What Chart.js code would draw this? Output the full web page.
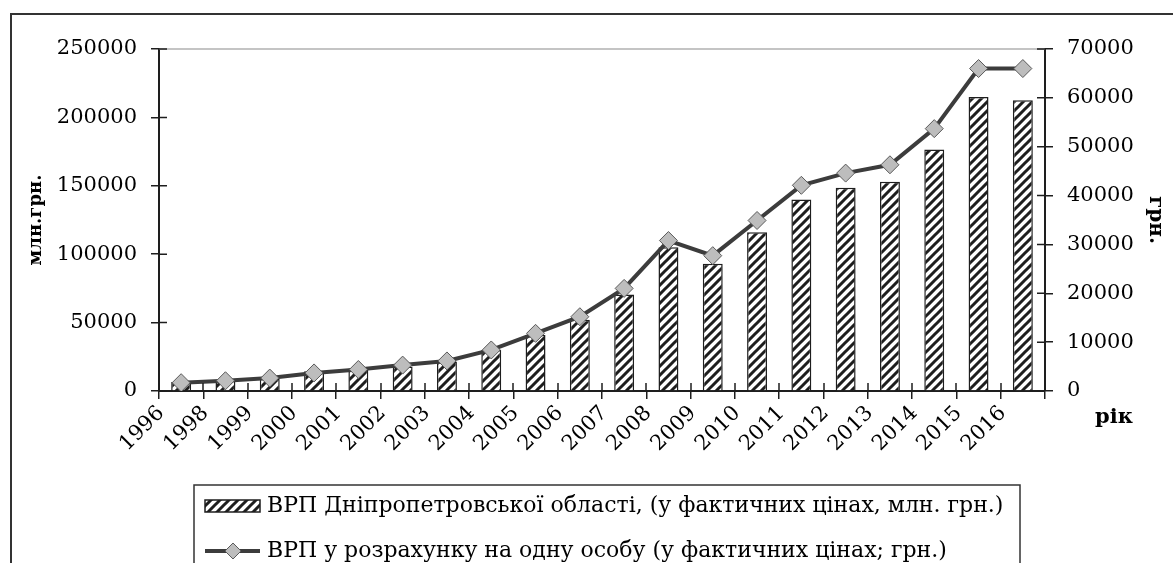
<!DOCTYPE html>
<html lang="uk">
<head>
<meta charset="utf-8">
<title>ВРП Дніпропетровської області</title>
<script src="https://cdn.jsdelivr.net/npm/chart.js@4.4.0/dist/chart.umd.min.js"></script>
<style>
    html, body { margin: 0; padding: 0; background: #fff; }
    #chart { display: block; }
</style>
</head>
<body>
<canvas id="chart" width="1173" height="563"></canvas>
<script>
// роки (категорії осі X)
const years = ['1996', '1998', '1999', '2000', '2001', '2002', '2003', '2004', '2005', '2006',
               '2007', '2008', '2009', '2010', '2011', '2012', '2013', '2014', '2015', '2016'];
// ВРП області, млн. грн. (ліва вісь)
const grpTotal = [6500, 7500, 9000, 14500, 16500, 18000, 21500, 30000, 41000, 52000,
                  70500, 105000, 93000, 116000, 140000, 148500, 153000, 176500, 215000, 212500];
// ВРП на одну особу, грн. (права вісь)
const grpPerCapita = [1700, 2100, 2650, 3700, 4400, 5300, 6150, 8400, 11800, 15200,
                      21000, 30800, 27700, 34900, 42100, 44600, 46300, 53700, 66000, 66000];
// поділки осей
const leftTicks = [0, 50000, 100000, 150000, 200000, 250000];
const rightTicks = [0, 10000, 20000, 30000, 40000, 50000, 60000, 70000];
// підписи легенди
const barLabel = 'ВРП Дніпропетровської області, (у фактичних цінах, млн. грн.)';
const lineLabel = 'ВРП у розрахунку на одну особу (у фактичних цінах; грн.)';

const SERIF = "'DejaVu Serif', 'Liberation Serif', serif";
const canvas = document.getElementById('chart');
const mainCtx = canvas.getContext('2d');

// штрихування стовпців
function makeHatch() {
    const tile = document.createElement('canvas');
    tile.width = 9;
    tile.height = 9;
    const g = tile.getContext('2d');
    g.fillStyle = '#fff';
    g.fillRect(0, 0, 9, 9);
    g.strokeStyle = '#1e1e1e';
    g.lineWidth = 3;
    g.beginPath();
    g.moveTo(-2, 11); g.lineTo(11, -2);
    g.moveTo(-6, 6); g.lineTo(6, -6);
    g.moveTo(3, 15); g.lineTo(15, 3);
    g.stroke();
    return mainCtx.createPattern(tile, 'repeat');
}
const hatch = makeHatch();

// рамка, лінія зверху, внутрішні поділки, "рік" і легенда
const decorPlugin = {
    id: 'decor',
    beforeDraw(chart) {
        const ctx = chart.ctx;
        ctx.save();
        ctx.fillStyle = '#fff';
        ctx.fillRect(0, 0, chart.width, chart.height);
        ctx.strokeStyle = '#333';
        ctx.lineWidth = 2;
        ctx.strokeRect(11, 14, chart.width + 20, chart.height + 20);
        ctx.restore();
    },
    afterDraw(chart) {
        const ctx = chart.ctx;
        const area = chart.chartArea;
        ctx.save();

        // світла лінія по верху області побудови
        ctx.strokeStyle = '#b0b0b0';
        ctx.lineWidth = 1.5;
        ctx.beginPath();
        ctx.moveTo(area.left, area.top);
        ctx.lineTo(area.right, area.top);
        ctx.stroke();

        // поділки всередину області
        ctx.strokeStyle = '#1e1e1e';
        ctx.lineWidth = 1.5;
        ctx.beginPath();
        const step = (area.right - area.left) / years.length;
        for (let i = 0; i <= years.length; i++) {
            const px = Math.round(area.left + i * step);
            ctx.moveTo(px, area.bottom);
            ctx.lineTo(px, area.bottom - 8);
        }
        chart.scales.y.ticks.forEach((t, i) => {
            const py = chart.scales.y.getPixelForTick(i);
            ctx.moveTo(area.left, py);
            ctx.lineTo(area.left + 8, py);
        });
        chart.scales.y1.ticks.forEach((t, i) => {
            const py = chart.scales.y1.getPixelForTick(i);
            ctx.moveTo(area.right, py);
            ctx.lineTo(area.right - 8, py);
        });
        ctx.stroke();

        // підпис осі X праворуч
        ctx.fillStyle = '#000';
        ctx.font = 'bold 21px ' + SERIF;
        ctx.textAlign = 'center';
        ctx.textBaseline = 'middle';
        ctx.fillText('рік', 1114, 418);

        // легенда
        const barDs = chart.data.datasets.find(d => d.type === 'bar');
        const lineDs = chart.data.datasets.find(d => d.type === 'line');
        ctx.strokeStyle = '#333';
        ctx.lineWidth = 1.5;
        ctx.strokeRect(194, 485, 826, 120);

        const rows = [506, 551];
        ctx.font = '22px ' + SERIF;
        ctx.textAlign = 'left';

        // стовпці
        ctx.fillStyle = barDs.backgroundColor;
        ctx.fillRect(205, rows[0] - 6, 55, 12);
        ctx.strokeStyle = barDs.borderColor;
        ctx.strokeRect(205, rows[0] - 6, 55, 12);
        ctx.fillStyle = '#000';
        ctx.fillText(barDs.label, 267, rows[0]);

        // лінія
        ctx.strokeStyle = lineDs.borderColor;
        ctx.lineWidth = 4;
        ctx.beginPath();
        ctx.moveTo(205, rows[1]);
        ctx.lineTo(260, rows[1]);
        ctx.stroke();
        ctx.fillStyle = lineDs.pointBackgroundColor;
        ctx.strokeStyle = lineDs.pointBorderColor;
        ctx.lineWidth = 1;
        ctx.beginPath();
        ctx.moveTo(233, rows[1] - 8);
        ctx.lineTo(241, rows[1]);
        ctx.lineTo(233, rows[1] + 8);
        ctx.lineTo(225, rows[1]);
        ctx.closePath();
        ctx.fill();
        ctx.stroke();
        ctx.fillStyle = '#000';
        ctx.fillText(lineDs.label, 267, rows[1]);

        ctx.restore();
    }
};

const tickFont = { family: SERIF, size: 21 };
const plainNumber = value => String(value);

new Chart(canvas, {
    data: {
        labels: years,
        datasets: [
            {
                type: 'line',
                label: lineLabel,
                data: grpPerCapita,
                yAxisID: 'y1',
                order: 0,
                borderColor: '#3c3c3c',
                borderWidth: 4,
                tension: 0,
                pointStyle: 'rectRot',
                pointRadius: 9,
                pointBackgroundColor: '#bdbdbd',
                pointBorderColor: '#5a5a5a',
                pointBorderWidth: 1
            },
            {
                type: 'bar',
                label: barLabel,
                data: grpTotal,
                yAxisID: 'y',
                order: 1,
                backgroundColor: hatch,
                borderColor: '#1e1e1e',
                borderWidth: 1.5,
                borderSkipped: 'bottom',
                barPercentage: 0.45,
                categoryPercentage: 1
            }
        ]
    },
    options: {
        responsive: false,
        animation: false,
        layout: { padding: { top: 49, left: 0, right: 0, bottom: 0 } },
        plugins: {
            legend: { display: false },
            tooltip: { enabled: false }
        },
        scales: {
            x: {
                offset: true,
                grid: {
                    offset: true,
                    drawOnChartArea: false,
                    tickLength: 8,
                    color: '#1e1e1e',
                    lineWidth: 1.5
                },
                border: { color: '#1e1e1e', width: 2 },
                ticks: {
                    color: '#000',
                    font: tickFont,
                    minRotation: 45,
                    maxRotation: 45,
                    autoSkip: false,
                    padding: 2,
                    labelOffset: -20
                },
                afterFit(scale) { scale.height = 172; }
            },
            y: {
                position: 'left',
                min: leftTicks[0],
                max: leftTicks[leftTicks.length - 1],
                grid: {
                    drawOnChartArea: false,
                    tickLength: 8,
                    color: '#1e1e1e',
                    lineWidth: 1.5
                },
                border: { color: '#1e1e1e', width: 2 },
                ticks: {
                    stepSize: leftTicks[1] - leftTicks[0],
                    color: '#000',
                    font: tickFont,
                    padding: 14,
                    callback: plainNumber
                },
                title: {
                    display: true,
                    text: 'млн.грн.',
                    color: '#000',
                    font: { family: SERIF, size: 18, weight: 'bold' },
                    padding: { top: 26, bottom: 0 }
                },
                afterFit(scale) { scale.width = 159; }
            },
            y1: {
                position: 'right',
                min: rightTicks[0],
                max: rightTicks[rightTicks.length - 1],
                grid: {
                    drawOnChartArea: false,
                    tickLength: 8,
                    color: '#1e1e1e',
                    lineWidth: 1.5
                },
                border: { color: '#1e1e1e', width: 2 },
                ticks: {
                    stepSize: rightTicks[1] - rightTicks[0],
                    color: '#000',
                    font: tickFont,
                    padding: 14,
                    callback: plainNumber
                },
                title: {
                    display: true,
                    text: 'грн.',
                    color: '#000',
                    font: { family: SERIF, size: 20, weight: 'bold' },
                    padding: { top: 6, bottom: 0 }
                },
                afterFit(scale) { scale.width = 128; }
            }
        }
    },
    plugins: [decorPlugin]
});
</script>
</body>
</html>
